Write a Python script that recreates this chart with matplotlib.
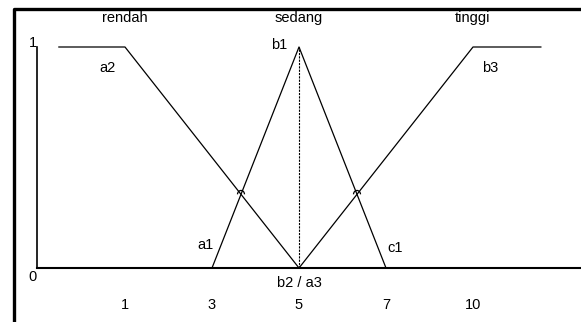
import matplotlib
matplotlib.use("Agg")
import matplotlib.pyplot as plt
from matplotlib.lines import Line2D
from matplotlib.patches import Arc

plt.rcParams['font.family'] = ['Liberation Sans', 'DejaVu Sans']

# tick labels on the x axis (equally spaced positions 0..4)
tick_labels = ['1', '3', '5', '7', '10']
tick_pos = [0, 1, 2, 3, 4]

# membership functions (x position, membership)
rendah_x = [-0.76, 0, 2]
rendah_y = [1, 1, 0]
sedang_x = [1, 2, 3]
sedang_y = [0, 1, 0]
tinggi_x = [2, 4, 4.78]
tinggi_y = [0, 1, 1]

# set names above each curve
set_names = ['rendah', 'sedang', 'tinggi']
set_pos = [0, 2, 4]

# point labels (text, x, y)
point_labels = [('a2', -0.2, 0.905), ('b1', 1.77, 1.01), ('b3', 4.2, 0.905),
                ('a1', 0.92, 0.104), ('c1', 3.11, 0.09), ('b2 / a3', 2, -0.068)]

fs = 10.5

fig = plt.figure(figsize=(5.81, 3.22), dpi=100)
ax = fig.add_axes([0, 0, 1, 1])
ax.set_xlim(-125 / 87, 456 / 87)
ax.set_ylim(-54 / 221, 268 / 221)
ax.axis('off')

# axes lines
ax.plot([-1.01, -1.01], [0, 1], color='black', lw=1.2)
ax.plot([-1.01, 5.3], [0, 0], color='black', lw=1.5, clip_on=False)

ax.plot(rendah_x, rendah_y, color='black', lw=0.9)
ax.plot(sedang_x, sedang_y, color='black', lw=0.9)
ax.plot(tinggi_x, tinggi_y, color='black', lw=0.9)
ax.plot([2, 2], [0, 1], color='black', lw=0.8, linestyle=(0, (2, 1)))

# small jump arcs where lines cross
for cx, cy in [(4 / 3, 1 / 3), (8 / 3, 1 / 3)]:
    ax.add_patch(Arc((cx, cy), 0.08, 0.035, theta1=0, theta2=180,
                     color='black', lw=0.9))

for name, p in zip(set_names, set_pos):
    ax.text(p, 1.131, name, ha='center', va='center', fontsize=fs)
for t, x, y in point_labels:
    ax.text(x, y, t, ha='center', va='center', fontsize=fs)
for t, p in zip(tick_labels, tick_pos):
    ax.text(p, -0.167, t, ha='center', va='center', fontsize=fs)

ax.text(-1.06, 1.018, '1', ha='center', va='center', fontsize=fs)
ax.text(-1.06, -0.04, '0', ha='center', va='center', fontsize=fs)

# outer frame (top and left)
fig.add_artist(Line2D([13.5 / 581, 13.5 / 581, 1], [0, 1 - 8.5 / 322, 1 - 8.5 / 322],
                      color='black', lw=2.4))

fig.savefig('out.png', dpi=100)
